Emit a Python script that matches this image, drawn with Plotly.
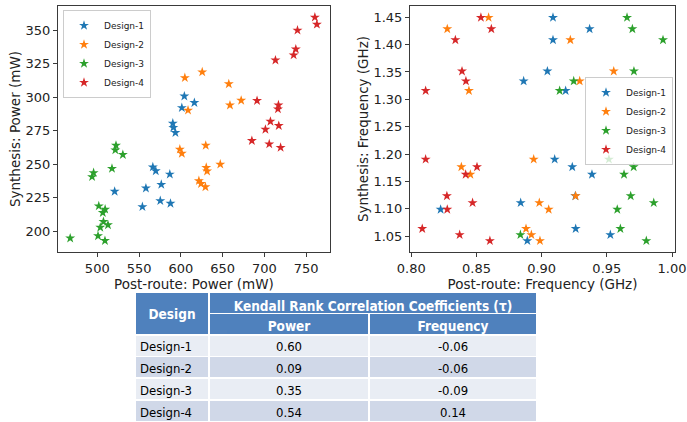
import plotly.graph_objects as go

W, H = 687, 422

designs = ["Design-1", "Design-2", "Design-3", "Design-4"]
colors = ["#1f77b4", "#ff7f0e", "#2ca02c", "#d62728"]

# Power (mW): post-route vs synthesis, per design
post_power_d1 = [520.8, 554.0, 558.2, 566.5, 570.0, 576.6, 575.4, 586.8, 587.6, 590.4, 591.0, 593.5, 601.2, 604.2, 616.2]
syn_power_d1 = [229.6, 218.1, 232.0, 247.8, 244.9, 234.7, 222.6, 242.4, 220.6, 280.4, 277.2, 273.4, 292.0, 300.6, 295.8]

post_power_d2 = [598.8, 601.2, 604.8, 608.6, 625.6, 629.8, 621.6, 624.2, 629.4, 630.4, 631.4, 647.2, 657.4, 658.8, 672.2]
syn_power_d2 = [261.0, 257.9, 314.3, 290.1, 318.6, 263.9, 237.5, 235.4, 232.9, 247.4, 244.7, 249.8, 309.8, 293.9, 297.5]

post_power_d3 = [467.6, 493.8, 495.6, 501.8, 500.9, 503.6, 506.6, 509.4, 507.4, 509.2, 512.8, 517.6, 521.6, 522.4, 530.6]
syn_power_d3 = [194.7, 240.5, 243.5, 218.7, 196.4, 202.7, 213.7, 216.2, 207.0, 192.8, 204.6, 246.6, 260.4, 263.9, 257.0]

post_power_d4 = [760.4, 762.8, 739.6, 737.6, 735.0, 713.2, 691.2, 716.8, 716.2, 707.2, 701.2, 717.2, 685.0, 705.8, 719.4]
syn_power_d4 = [359.5, 354.2, 349.8, 335.7, 331.3, 327.5, 297.3, 294.0, 291.0, 281.8, 275.8, 278.6, 267.4, 264.9, 262.3]

# Frequency (GHz): every design was synthesised at the same set of target clocks
syn_freq = [1.4493, 1.4286, 1.4085, 1.3514, 1.3333, 1.3158, 1.1905, 1.1765,
            1.1628, 1.1236, 1.1111, 1.0989, 1.0638, 1.0526, 1.0417]
post_freq_d1 = [0.9087, 0.9368, 0.9087, 0.9044, 0.8862, 0.9184, 0.9100, 0.9235,
                0.9386, 0.9258, 0.8839, 0.8225, 0.9261, 0.9527, 0.8890]
post_freq_d2 = [0.8593, 0.8276, 0.9220, 0.9553, 0.9292, 0.8442, 0.8939, 0.8384,
                0.8453, 0.9261, 0.8982, 0.9054, 0.8880, 0.8921, 0.8987]
post_freq_d3 = [0.9655, 0.9696, 0.9931, 0.9708, 0.9246, 0.9138, 0.9516, 0.9706,
                0.9632, 0.9683, 0.9860, 0.9580, 0.9604, 0.8837, 0.9803]
post_freq_d4 = [0.8534, 0.8614, 0.8338, 0.8389, 0.8419, 0.8110, 0.8110, 0.8504,
                0.8417, 0.8273, 0.8470, 0.8276, 0.8084, 0.8371, 0.8603]

# Kendall rank correlation (tau) between post-route and synthesis results
tau_power = [0.60, 0.09, 0.35, 0.54]
tau_freq = [-0.06, -0.06, -0.09, 0.14]

table_title = "Kendall Rank Correlation Coefficients (τ)"
col_heads = ["Power", "Frequency"]
design_head = "Design"

post_power = [post_power_d1, post_power_d2, post_power_d3, post_power_d4]
syn_power = [syn_power_d1, syn_power_d2, syn_power_d3, syn_power_d4]
post_freq = [post_freq_d1, post_freq_d2, post_freq_d3, post_freq_d4]

FONT = "DejaVu Sans"
TABLE_FONT = "DejaVu Sans Condensed, DejaVu Sans"
INK = "#222222"
FRAME = "#3a3a3a"
STAR = 7.5

fig = go.Figure()

for name, color, px, py in zip(designs, colors, post_power, syn_power):
    fig.add_trace(go.Scatter(
        x=px, y=py, mode="markers", name=name, legend="legend",
        marker=dict(symbol="star", size=STAR, color=color, line=dict(width=0)),
        xaxis="x", yaxis="y", hoverinfo="skip"))

for name, color, fx in zip(designs, colors, post_freq):
    fig.add_trace(go.Scatter(
        x=fx, y=syn_freq, mode="markers", name=name, legend="legend2",
        marker=dict(symbol="star", size=STAR, color=color, line=dict(width=0)),
        xaxis="x2", yaxis="y2", hoverinfo="skip"))

# ---- correlation table -------------------------------------------------
# Cells are drawn as a coloured grid (blank text) with a transparent text
# layer on top, positioned so the labels sit centred in their cells.
col_x = [135, 209, 369, 537]          # column edges (px)
row_top, row_mid, row_body = 292, 313.5, 335
row_h = 21.6                          # grid row height
text_row_h = 21.8                     # text row pitch
blue = "#4f81bd"
band = ["#e9edf4", "#d0d8e8", "#e9edf4", "#d0d8e8"]
clear = "rgba(0,0,0,0)"
white_line = dict(color="white", width=1.5)
no_line = dict(color=clear, width=0)
head_font = dict(family=TABLE_FONT, size=13.5, color="white")
body_font = dict(family=TABLE_FONT, size=13, color="black")


def fx_(v):
    return v / W


def fy_(v):
    return 1 - v / H


n_rows = len(designs)
blank_rows = [""] * n_rows
val_widths = [col_x[2] - col_x[1], col_x[3] - col_x[2]]

# grid: spanning title row over the Power / Frequency columns
fig.add_trace(go.Table(
    domain=dict(x=[fx_(col_x[1]), fx_(col_x[3])], y=[0, fy_(row_top)]),
    header=dict(values=[""], fill_color=blue, line=white_line, height=row_mid - row_top),
    cells=dict(values=[[""]], fill_color=clear, line=no_line, height=row_h)))

# grid: design column, its header cell spanning both header rows
fig.add_trace(go.Table(
    domain=dict(x=[fx_(col_x[0]), fx_(col_x[1])], y=[0, fy_(row_top)]),
    header=dict(values=[""], fill_color=blue, line=white_line, height=row_body - row_top),
    cells=dict(values=[blank_rows], fill_color=[band], line=white_line, height=row_h)))

# grid: Power / Frequency columns
fig.add_trace(go.Table(
    domain=dict(x=[fx_(col_x[1]), fx_(col_x[3])], y=[0, fy_(row_mid)]),
    columnwidth=val_widths,
    header=dict(values=["", ""], fill_color=blue, line=white_line, height=row_body - row_mid),
    cells=dict(values=[blank_rows, blank_rows], fill_color=[band, band],
               line=white_line, height=row_h)))

# text: table title
fig.add_trace(go.Table(
    domain=dict(x=[fx_(col_x[1]), fx_(col_x[3])], y=[0, fy_(289.5)]),
    header=dict(values=[f"<b>{table_title}</b>"], fill_color=clear, line=no_line,
                height=row_h, font=head_font, align="center"),
    cells=dict(values=[[""]], fill_color=clear, line=no_line, height=row_h)))

# text: Power / Frequency headers
fig.add_trace(go.Table(
    domain=dict(x=[fx_(col_x[1]), fx_(col_x[3])], y=[0, fy_(309.5)]),
    columnwidth=val_widths,
    header=dict(values=[f"<b>{h}</b>" for h in col_heads], fill_color=clear, line=no_line,
                height=row_h, font=head_font, align="center"),
    cells=dict(values=[[""], [""]], fill_color=clear, line=no_line, height=row_h)))

# text: design header, centred over both header rows
fig.add_trace(go.Table(
    domain=dict(x=[fx_(col_x[0]), fx_(col_x[1])], y=[0, fy_(297.5)]),
    header=dict(values=[f"<b>{design_head}</b>"], fill_color=clear, line=no_line,
                height=row_h, font=head_font, align="center"),
    cells=dict(values=[[""]], fill_color=clear, line=no_line, height=row_h)))

# text: design names and tau values (blank spacer header above the rows)
first_text_row = 333.7
spacer_h = 16
fig.add_trace(go.Table(
    domain=dict(x=[fx_(col_x[0] - 3), fx_(col_x[1] - 3)], y=[0, fy_(first_text_row - spacer_h)]),
    header=dict(values=[""], fill_color=clear, line=no_line, height=spacer_h),
    cells=dict(values=[designs], fill_color=clear, line=no_line, height=text_row_h,
               font=body_font, align="left")))

fig.add_trace(go.Table(
    domain=dict(x=[fx_(col_x[1]), fx_(col_x[3])], y=[0, fy_(first_text_row - spacer_h)]),
    columnwidth=val_widths,
    header=dict(values=["", ""], fill_color=clear, line=no_line, height=spacer_h),
    cells=dict(values=[tau_power, tau_freq], format=[".2f", ".2f"],
               fill_color=clear, line=no_line, height=text_row_h,
               font=body_font, align="center")))

# ---- axes ---------------------------------------------------------------
axis_style = dict(
    showline=True, mirror=True, linecolor=FRAME, linewidth=1,
    ticks="outside", ticklen=4, tickwidth=1, tickcolor=FRAME,
    showgrid=False, zeroline=False, automargin=False,
    tickfont=dict(family=FONT, size=13, color=INK),
    title_font=dict(family=FONT, size=13.5, color=INK),
)

fig.update_layout(
    width=W, height=H, autosize=False,
    margin=dict(l=0, r=0, t=0, b=0),
    paper_bgcolor="white", plot_bgcolor="white",
    xaxis=dict(axis_style, domain=[58 / W, 330 / W], range=[453, 778.5],
               tickvals=[500, 550, 600, 650, 700, 750],
               title=dict(text="Post-route: Power (mW)", standoff=1), anchor="y"),
    yaxis=dict(axis_style, domain=[1 - 252 / H, 1 - 6 / H], range=[184.4, 367.9],
               tickvals=[200, 225, 250, 275, 300, 325, 350],
               title=dict(text="Synthesis: Power (mW)", standoff=1), anchor="x"),
    xaxis2=dict(axis_style, domain=[410 / W, 675 / W], range=[0.799, 1.0023],
                tickvals=[0.80, 0.85, 0.90, 0.95, 1.00], tickformat=".2f",
                title=dict(text="Post-route: Frequency (GHz)", standoff=1), anchor="y2"),
    yaxis2=dict(axis_style, domain=[1 - 252 / H, 1 - 6 / H], range=[1.0212, 1.4705],
                tickvals=[1.05, 1.10, 1.15, 1.20, 1.25, 1.30, 1.35, 1.40, 1.45],
                tickformat=".2f",
                title=dict(text="Synthesis: Frequency (GHz)", standoff=1), anchor="x2"),
    legend=dict(x=63 / W, y=1 - 10 / H, xanchor="left", yanchor="top",
                bgcolor="rgba(255,255,255,0.8)", bordercolor="#cccccc", borderwidth=1,
                font=dict(family=FONT, size=9, color=INK)),
    legend2=dict(x=673 / W, y=1 - 77 / H, xanchor="right", yanchor="top",
                 bgcolor="rgba(255,255,255,0.8)", bordercolor="#cccccc", borderwidth=1,
                 font=dict(family=FONT, size=9, color=INK)),
)

fig.write_html("out.html")
